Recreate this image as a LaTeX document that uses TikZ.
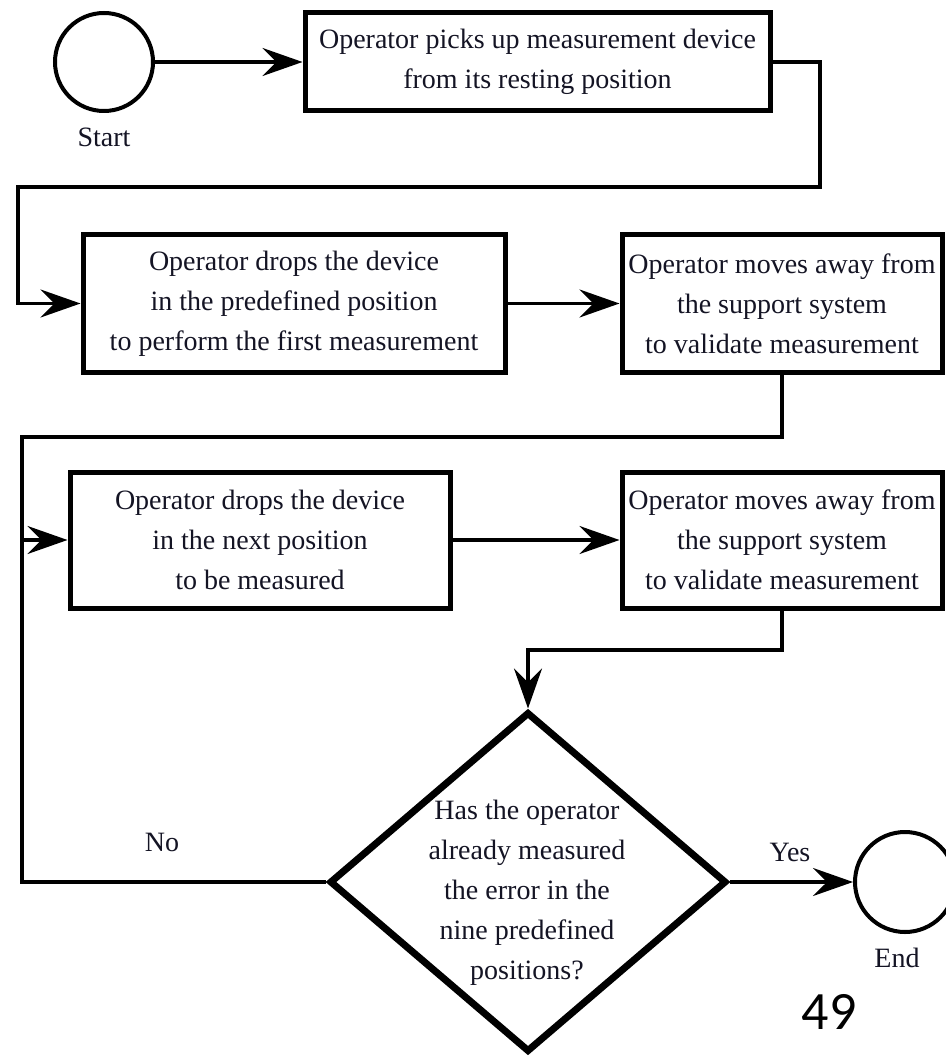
\documentclass[tikz,border=0pt]{standalone}
\usepackage{fontspec}
\setmainfont{Liberation Serif}
\newfontfamily\pagenumfont{Carlito}
\usetikzlibrary{shapes.geometric,arrows.meta}
\definecolor{inkc}{rgb}{0.08,0.08,0.14}
\begin{document}
\begin{tikzpicture}[x=1pt,y=-1pt,
  lbl/.style={text=inkc,font=\fontsize{28}{40}\selectfont,inner sep=0pt,align=center},
  stepbox/.style={lbl,draw=black,line width=5pt,rectangle},
  terminal/.style={draw=black,line width=4pt,circle,inner sep=0pt},
  flow/.style={draw=black,line width=3.5pt},
  arr/.style={flow,-{Stealth[length=40pt,width=28pt,inset=14pt]}}]
\useasboundingbox (0,0) rectangle (945,1056);
\fill[white] (0,0) rectangle (945,1056);

% start / end markers
\node[terminal,minimum size=98pt] (start) at (104,62) {};
\node[lbl] (startlbl) at (104,137) {Start};
\node[terminal,minimum size=100pt] (end) at (905,882) {};
\node[lbl] (endlbl) at (897,958) {End};

% process steps
\node[stepbox,minimum width=465pt,minimum height=98pt] (b1) at (537.5,62)
  {Operator picks up measurement device\\from its resting position};
\node[stepbox,minimum width=422pt,minimum height=137pt] (b2) at (294,303.5)
  {Operator drops the device\\in the predefined position\\to perform the first measurement};
\node[stepbox,minimum width=320pt,minimum height=137pt] (b3) at (782,303.5)
  {Operator moves away from\\the support system\\to validate measurement};
\node[stepbox,minimum width=380pt,minimum height=136pt] (b4) at (260,540)
  {Operator drops the device\\in the next position\\to be measured};
\node[stepbox,minimum width=320pt,minimum height=136pt] (b5) at (782,540)
  {Operator moves away from\\the support system\\to validate measurement};

% decision
\node[diamond,draw=black,line width=7pt,minimum width=397pt,minimum height=340pt,inner sep=0pt] (dec) at (528,882) {};
\node[lbl] (dectxt) at (527,893)
  {Has the operator\\already measured\\the error in the\\nine predefined\\positions?};

% branch labels and page number
\node[lbl] (nolbl) at (162,842) {No};
\node[lbl] (yeslbl) at (790,852) {Yes};
\node[text=black,font=\pagenumfont\fontsize{54}{60}\selectfont,inner sep=0pt] (pnum) at (829,1012) {49};

% routing points
\coordinate (r1) at (820,187);
\coordinate (r2) at (18,187);
\coordinate (r3) at (22,437);
\coordinate (r5) at (528,650);

% connectors
\draw[arr] (start) -- (b1);
\draw[arr] (b1.east) -| (r1) -- (r2) |- (b2.west);
\draw[arr] (b2) -- (b3);
\draw[arr] (b3.south) |- (r3) |- (b4.west);
\draw[flow] (dec.west) -| (r3);
\draw[arr] (b4) -- (b5);
\draw[arr] (b5.south) |- (r5) -- (dec.north);
\draw[arr] (dec.east) -- (end.west);
\end{tikzpicture}
\end{document}
